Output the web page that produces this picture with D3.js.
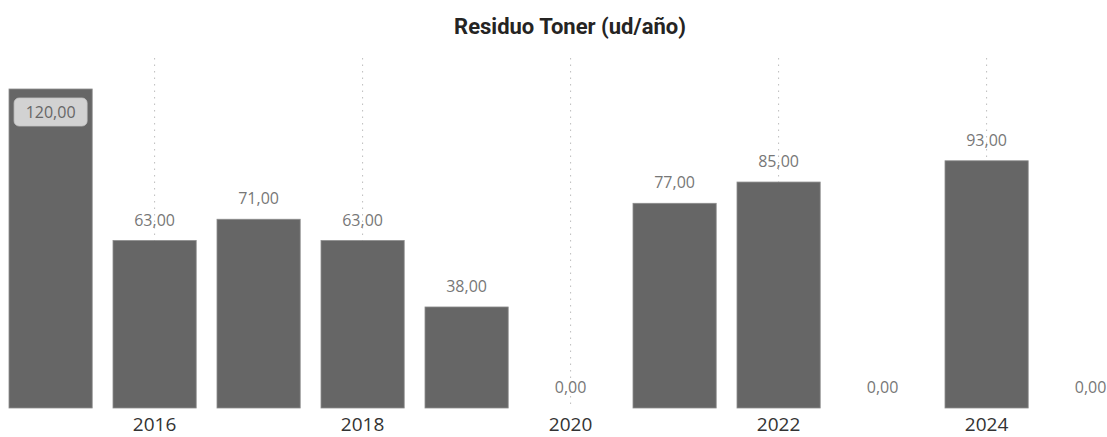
<!DOCTYPE html>
<html>
<head>
<meta charset="utf-8">
<script src="https://cdn.jsdelivr.net/npm/d3@7"></script>
<style>
  html, body { margin: 0; padding: 0; background: #fff; }
</style>
</head>
<body>
<div id="chart"></div>
<script>
// data
var years = [2015, 2016, 2017, 2018, 2019, 2020, 2021, 2022, 2023, 2024, 2025];
var toner = [120, 63, 71, 63, 38, 0, 77, 85, 0, 93, 0];
var tickYears = [2016, 2018, 2020, 2022, 2024];
var title = "Residuo Toner (ud/año)";

var w = 1107, h = 437;
var plotTop = 58, baseY = 408;

var fmt = function(v){ return d3.format(".2f")(v).replace(".", ","); };

var svg = d3.select("#chart").append("svg").attr("width", w).attr("height", h);

var x = d3.scaleBand().domain(years).range([-1.4, 1142.6]).paddingInner(0.2).paddingOuter(0.1);
var y = d3.scaleLinear().domain([0, 120]).range([baseY, 89]);

// title
svg.append("text").text(title)
  .attr("x", 570).attr("y", 34)
  .attr("text-anchor", "middle")
  .style("font-family", "Roboto, 'DejaVu Sans Condensed', sans-serif")
  .style("font-weight", "700").style("font-size", "22px").style("fill", "#252423");

// vertical dotted grid at labelled years
svg.append("g").selectAll("line").data(tickYears).enter().append("line")
  .attr("x1", function(d){ return x(d) + x.bandwidth()/2; })
  .attr("x2", function(d){ return x(d) + x.bandwidth()/2; })
  .attr("y1", plotTop).attr("y2", baseY)
  .style("stroke", "#bdbdbd").style("stroke-width", 1).style("stroke-dasharray", "1.5,5");

var rows = years.map(function(d, i){ return {year: d, value: toner[i]}; });

// bars
svg.append("g").selectAll("rect").data(rows).enter().append("rect")
  .attr("x", function(d){ return x(d.year); })
  .attr("width", x.bandwidth())
  .attr("y", function(d){ return y(d.value); })
  .attr("height", function(d){ return baseY - y(d.value); })
  .style("fill", "#666666").style("stroke", "#8c8c8c").style("stroke-width", 0.8);

// data labels
var maxVal = d3.max(toner);
var lab = svg.append("g").selectAll("g").data(rows).enter().append("g");

lab.filter(function(d){ return d.value === maxVal; }).append("rect")
  .attr("x", function(d){ return x(d.year) + x.bandwidth()/2 - 36.5; })
  .attr("y", function(d){ return y(d.value) + 9; })
  .attr("width", 73).attr("height", 28).attr("rx", 5)
  .style("fill", "#d2d2d2").style("stroke", "#c4c4c4").style("stroke-width", 0.8);

lab.append("text").text(function(d){ return fmt(d.value); })
  .attr("x", function(d){ return x(d.year) + x.bandwidth()/2; })
  .attr("y", function(d){ return d.value === maxVal ? y(d.value) + 29 : y(d.value) - 15; })
  .attr("text-anchor", "middle")
  .style("font-family", "'Open Sans', sans-serif").style("font-size", "16px")
  .style("fill", function(d){ return d.value === maxVal ? "#666" : "#777"; });

// x axis labels
var xAxis = d3.axisBottom(x).tickValues(tickYears).tickSize(0).tickPadding(10);
var ax = svg.append("g").attr("transform", "translate(0," + baseY + ")").call(xAxis);
ax.select(".domain").remove();
ax.selectAll("text")
  .style("font-family", "'Open Sans', sans-serif").style("font-size", "19px").style("fill", "#333");
</script>
</body>
</html>
